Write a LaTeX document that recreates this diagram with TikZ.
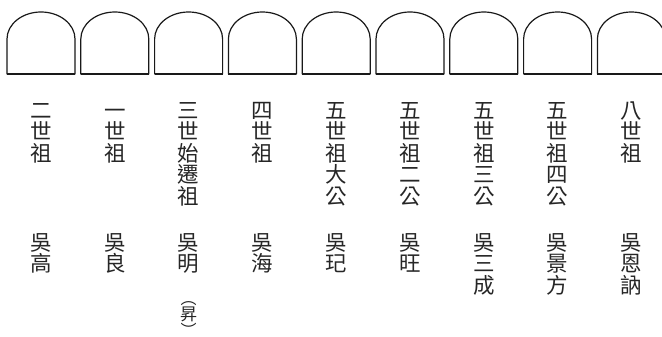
\documentclass[tikz,border=0pt]{standalone}
\usepackage{fontspec}
\newfontfamily\cjk{Noto Sans CJK TC}
\begin{document}
\begin{tikzpicture}[x=1pt,y=-1pt,
  stone/.style={draw=black!90, line width=1.2pt, line join=round},
  stonebase/.style={draw=black!90, line width=2pt},
  coltext/.style={anchor=north, inner sep=0pt, align=center, text=black!85,
    font=\cjk\fontsize{21.5}{21.6}\selectfont},
  paren/.style={inner sep=0pt, text=black!85, font=\cjk\fontsize{17}{17}\selectfont},
  parenmark/.style={inner sep=0pt, text=black!85, font=\cjk\fontsize{16}{16}\selectfont}]
\useasboundingbox (0,0) rectangle (662,337);
\begin{scope}
  \clip (0,0) rectangle (662,337);
  \foreach \i in {0,...,8} {
    \pgfmathsetmacro\L{7+73.8*\i}
    \draw[stone] (\L,74) -- (\L,39) arc[start angle=180,end angle=0,x radius=34pt,y radius=27pt] -- (\L+68,74) -- cycle;
    \draw[stonebase] (\L,74) -- (\L+68,74);
  }
\end{scope}
% titles
\node[coltext] (t1) at (41,100) {\vphantom{世}二\\世\\祖};
\node[coltext] (t2) at (114.8,100) {\vphantom{世}一\\世\\祖};
\node[coltext] (t3) at (188.6,100) {\vphantom{世}三\\世\\始\\遷\\祖};
\node[coltext] (t4) at (262.4,100) {\vphantom{世}四\\世\\祖};
\node[coltext] (t5) at (336.2,100) {\vphantom{世}五\\世\\祖\\大\\公};
\node[coltext] (t6) at (410,100) {\vphantom{世}五\\世\\祖\\二\\公};
\node[coltext] (t7) at (483.8,100) {\vphantom{世}五\\世\\祖\\三\\公};
\node[coltext] (t8) at (557.6,100) {\vphantom{世}五\\世\\祖\\四\\公};
\node[coltext] (t9) at (631.4,100) {\vphantom{世}八\\世\\祖};
% names
\node[coltext] (n1) at (41,233) {吳\\高};
\node[coltext] (n2) at (114.8,233) {吳\\良};
\node[coltext] (n3) at (188.6,233) {吳\\明};
\node[coltext] (n4) at (262.4,233) {吳\\海};
\node[coltext] (n5) at (336.2,233) {吳\\玘};
\node[coltext] (n6) at (410,233) {吳\\旺};
\node[coltext] (n7) at (483.8,233) {吳\\三\\成};
\node[coltext] (n8) at (557.6,233) {吳\\景\\方};
\node[coltext] (n9) at (631.4,233) {吳\\恩\\訥};
% alternative name
\node[paren, anchor=center] (alt) at (188.6,314) {昇};
\node[parenmark, anchor=south] (p1) at (188.6,305.5) {︵};
\node[parenmark, anchor=north] (p2) at (188.6,323) {︶};
\end{tikzpicture}
\end{document}
